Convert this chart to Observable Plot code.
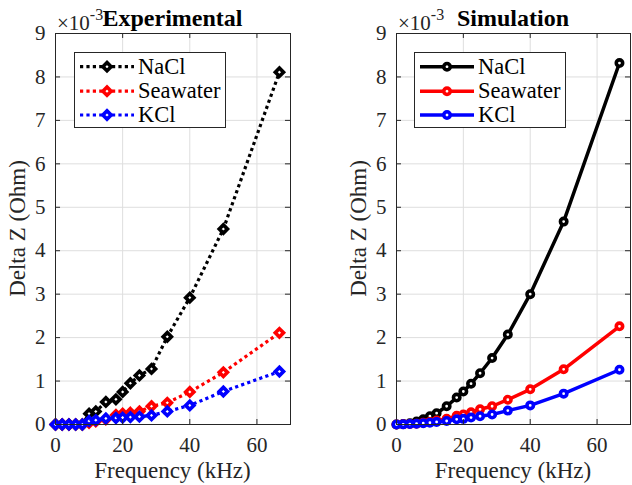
<!DOCTYPE html>
<html><head><meta charset="utf-8">
<script src="https://cdn.jsdelivr.net/npm/d3@7"></script>
<script src="https://cdn.jsdelivr.net/npm/@observablehq/plot@0.6"></script>
<style>
body{margin:0;background:#fff;}
#wrap{position:relative;width:632px;height:485px;overflow:hidden;background:#fff;}
#wrap > svg{position:absolute;top:0;}
</style></head><body><div id="wrap"></div>
<script>
// frequencies (kHz)
const freq = [0, 2, 4, 6, 8, 10, 12, 15, 18, 20, 22.3, 25, 28.6, 33.3, 40, 50, 66.7];
// Delta Z values in units of 1e-3 Ohm
const expNaCl = [0, 0, 0, 0, 0, 0.25, 0.3, 0.52, 0.58, 0.75, 0.95, 1.13, 1.28, 2.02, 2.92, 4.5, 8.11];
const expSea  = [0, 0, 0, 0, 0, 0.04, 0.07, 0.12, 0.22, 0.25, 0.27, 0.3, 0.42, 0.5, 0.75, 1.2, 2.11];
const expKCl  = [0, 0, 0, 0, 0, 0.08, 0.1, 0.14, 0.15, 0.16, 0.17, 0.18, 0.21, 0.3, 0.44, 0.76, 1.22];
const simNaCl = [0, 0.01, 0.03, 0.07, 0.12, 0.19, 0.26, 0.42, 0.62, 0.76, 0.94, 1.18, 1.53, 2.07, 3.0, 4.67, 8.32];
const simSea  = [0, 0.005, 0.01, 0.02, 0.04, 0.06, 0.09, 0.13, 0.2, 0.23, 0.28, 0.35, 0.42, 0.57, 0.81, 1.27, 2.26];
const simKCl  = [0, 0.003, 0.01, 0.02, 0.03, 0.04, 0.06, 0.08, 0.12, 0.13, 0.16, 0.19, 0.23, 0.32, 0.44, 0.71, 1.26];

const seriesNames = ["NaCl", "Seawater", "KCl"];
const seriesColors = ["#000000", "#ff0000", "#0000ff"];
const xTicks = [0, 20, 40, 60];
const yTicks = [0, 1, 2, 3, 4, 5, 6, 7, 8, 9];
const xLabel = "Frequency (kHz)";
const yLabel = "Delta Z (Ohm)";
const titles = ["Experimental", "Simulation"];

const FONT = '"Liberation Serif","Times New Roman",serif';
const AXC = "#262626";
const DIA_R = 3.7, CIR_R = 3.2, MK_SW = 3.6;

function makeTable(arrs) {
  const rows = [];
  arrs.forEach((arr, i) => arr.forEach((v, j) => rows.push({f: freq[j], v, s: seriesNames[i]})));
  return rows;
}

function panel(arrs, dashed, left, mLeft, mRight) {
  const rows = makeTable(arrs);
  const marks = [
    Plot.gridX(xTicks, {stroke: "#dedede", strokeOpacity: 1}),
    Plot.gridY(yTicks, {stroke: "#dedede", strokeOpacity: 1})
  ];
  seriesNames.forEach((name, i) => {
    const d = rows.filter(r => r.s === name);
    marks.push(Plot.line(d, {x: "f", y: "v", stroke: seriesColors[i], strokeWidth: dashed ? 3.2 : 3.5,
      strokeDasharray: dashed ? "3.2,3.2" : null, strokeLinecap: "butt"}));
    marks.push(Plot.dot(d, {x: "f", y: "v", stroke: seriesColors[i], fill: "white",
      symbol: dashed ? "diamond2" : "circle", r: dashed ? DIA_R : CIR_R, strokeWidth: MK_SW}));
  });
  marks.push(
    Plot.frame({stroke: AXC, strokeWidth: 1}),
    Plot.ruleY(yTicks, {x1: 0, x2: 1.5, stroke: AXC}),
    Plot.ruleY(yTicks, {x1: 70, x2: 68.5, stroke: AXC}),
    Plot.ruleX(xTicks, {y1: 0, y2: 0.115, stroke: AXC}),
    Plot.ruleX(xTicks, {y1: 9, y2: 8.885, stroke: AXC}),
    Plot.axisY(yTicks, {tickSize: 0, tickPadding: 10, label: null}),
    Plot.axisX(xTicks, {tickSize: 0, tickPadding: 13, label: null})
  );
  const svg = Plot.plot({
    width: 316, height: 485,
    marginTop: 33, marginBottom: 61, marginLeft: mLeft, marginRight: mRight,
    x: {domain: [0, 70]},
    y: {domain: [0, 9]},
    style: {fontFamily: FONT, fontSize: "21px", color: AXC, background: "transparent", overflow: "visible"},
    marks
  });
  svg.style.left = left + "px";
  return svg;
}

const wrap = document.getElementById("wrap");
wrap.appendChild(panel([expNaCl, expSea, expKCl], true, 0, 55, 26));
wrap.appendChild(panel([simNaCl, simSea, simKCl], false, 316, 80, 2));

// annotation overlay (titles, labels, legends)
const ov = d3.select(wrap).append("svg")
  .attr("width", 632).attr("height", 485).style("left", "0px")
  .style("font-family", FONT).style("pointer-events", "none");

const panels = [
  {frameL: 55, frameR: 290, legX: 74, dashed: true},
  {frameL: 396, frameR: 630, legX: 414, dashed: false}
];
panels.forEach((p, k) => {
  const cx = (p.frameL + p.frameR) / 2;
  // exponent
  const ex = ov.append("text").attr("x", p.frameL + 2).attr("y", 30).attr("fill", AXC).attr("font-size", 21);
  ex.append("tspan").text("×10");
  ex.append("tspan").attr("font-size", 16).attr("dy", -10).text("-3");
  // title
  ov.append("text").attr("x", cx).attr("y", 26).attr("text-anchor", "middle")
    .attr("font-weight", "bold").attr("font-size", 24).attr("fill", "#000").text(titles[k]);
  // x label
  ov.append("text").attr("x", cx).attr("y", 478).attr("text-anchor", "middle")
    .attr("font-size", 23).attr("fill", AXC).text(xLabel);
  // y label
  ov.append("text").attr("transform", `translate(${p.frameL - 30},228.5) rotate(-90)`)
    .attr("text-anchor", "middle").attr("font-size", 23).attr("fill", AXC).text(yLabel);
  // legend
  const lg = ov.append("g");
  lg.append("rect").attr("x", p.legX + 0.5).attr("y", 52.5).attr("width", 151).attr("height", 75)
    .attr("fill", "white").attr("stroke", AXC);
  const ys = [66.7, 91.2, 115];
  seriesNames.forEach((name, i) => {
    const y = ys[i];
    lg.append("line").attr("x1", p.legX + 6).attr("x2", p.legX + 60).attr("y1", y).attr("y2", y)
      .attr("stroke", seriesColors[i]).attr("stroke-width", p.dashed ? 3.2 : 3.5)
      .attr("stroke-dasharray", p.dashed ? "3.2,3.2" : null);
    const sym = d3.symbol(p.dashed ? d3.symbolDiamond2 : d3.symbolCircle,
      Math.PI * Math.pow(p.dashed ? DIA_R : CIR_R, 2))();
    lg.append("path").attr("d", sym).attr("transform", `translate(${p.legX + 33},${y})`)
      .attr("fill", "white").attr("stroke", seriesColors[i]).attr("stroke-width", MK_SW);
    lg.append("text").attr("x", p.legX + 64).attr("y", y + 7).attr("font-size", 22.5)
      .attr("fill", "#000").text(name);
  });
});
</script>
</body></html>
